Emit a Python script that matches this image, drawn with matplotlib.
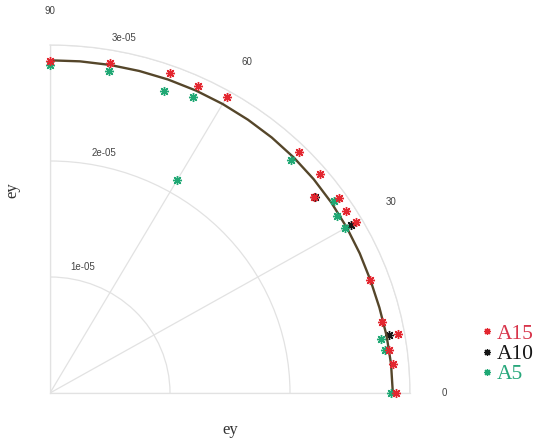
import numpy as np
import matplotlib
matplotlib.use("Agg")
import matplotlib.pyplot as plt
from matplotlib.lines import Line2D

# fitted envelope, radius in units of 1e-05
curve_theta = [0, 5, 10, 15, 20, 25, 30, 35, 40, 45, 50, 55, 60, 65, 70, 75, 80, 85, 90]
curve_r = [2.857, 2.853, 2.848, 2.842, 2.842, 2.848, 2.855, 2.862, 2.868, 2.872,
           2.875, 2.876, 2.877, 2.877, 2.876, 2.874, 2.872, 2.870, 2.868]

# measured samples, radius in units of 1e-05
a15_theta = [0, 5, 7.5, 10, 12.5, 20, 30, 32.5, 35, 37.5, 40, 45, 60, 65, 70, 80, 90]
a15_r = [2.881, 2.866, 2.853, 2.948, 2.836, 2.841, 2.946, 2.925, 2.938, 2.778,
         2.941, 2.938, 2.946, 2.919, 2.935, 2.892, 2.863]

a10_theta = [10, 30, 37.5]
a10_r = [2.872, 2.892, 2.780]

a5_theta = [0, 7.5, 9.6, 30, 32.5, 35, 45, 60, 65, 70, 80, 90]
a5_r = [2.839, 2.816, 2.795, 2.839, 2.833, 2.888, 2.838, 2.118, 2.813, 2.769, 2.821, 2.831]

r_ticks = [1e-05, 2e-05, 3e-05]
r_tick_labels = ["1e-05", "2e-05", "3e-05"]
theta_ticks = [0, 30, 60, 90]
series_names = ["A15", "A10", "A5"]

SCALE = 1e-05
RED = "#e3262f"
BLACK = "#151515"
GREEN = "#1fa874"
LINE = "#55462a"
GRID = "#e2e2e2"
STAR = (8, 2, 0)

W, H = 533, 441
fig = plt.figure(figsize=(W / 100, H / 100), dpi=100)
ax = fig.add_axes([50 / W, 48 / H, 360 / W, 348 / H], projection="polar")
ax.set_thetamin(0)
ax.set_thetamax(90)
ax.set_rlim(0, 3e-05)
ax.set_aspect("auto")


def rad(deg):
    return np.deg2rad(np.asarray(deg, dtype=float))


def scaled(vals):
    return np.asarray(vals) * SCALE


# A10 sits under the fitted line, the others on top
ax.plot(rad(a10_theta), scaled(a10_r), ls="none", marker=STAR, ms=6.5, mew=1.0,
        color=BLACK, zorder=2, clip_on=False)
ax.plot(rad(curve_theta), scaled(curve_r), color=LINE, lw=1.7, zorder=3)
for th, rr, col in [(a5_theta, a5_r, GREEN), (a15_theta, a15_r, RED)]:
    ax.plot(rad(th), scaled(rr), ls="none", marker=STAR, ms=6.5, mew=1.0,
            color=col, zorder=4, clip_on=False)

# grid and frame
ax.set_thetagrids(theta_ticks, labels=[str(t) for t in theta_ticks])
ax.set_rgrids(r_ticks, labels=[""] * len(r_ticks))
ax.grid(color=GRID, linewidth=0.9)
for name in ["polar", "start", "end", "inner"]:
    if name in ax.spines:
        ax.spines[name].set_color(GRID)
        ax.spines[name].set_linewidth(0.9)
ax.tick_params(axis="x", pad=17.5, length=0, labelsize=7, labelcolor="#444444")
ax.tick_params(axis="y", length=0)
for lab in ax.get_xticklabels():
    lab.set_fontfamily("Liberation Sans")

# radial labels sit just above each ring
for rv, txt in zip(r_ticks, r_tick_labels):
    ax.annotate(txt, xy=(rad(80), rv), xytext=(8.6, 8.6), textcoords="offset points",
                ha="center", va="center", fontsize=7, color="#444444",
                family="Liberation Sans", annotation_clip=False)

fig.text(230 / W, 1 - 430 / H, "ey", ha="center", va="center",
         family="Liberation Serif", fontsize=12, color="#333333")
fig.text(12 / W, 1 - 190 / H, "ey", ha="center", va="center", rotation=90,
         family="Liberation Serif", fontsize=12, color="#333333")

handles = [Line2D([], [], ls="none", marker=STAR, ms=5, mew=0.9, color=c)
           for c in (RED, BLACK, GREEN)]
ax.legend(handles, series_names, loc="center left",
          bbox_to_anchor=(482 / W, 1 - 354 / H), bbox_transform=fig.transFigure,
          frameon=False, prop={"family": "Liberation Serif", "size": 15.5},
          labelcolor=["#d8354b", BLACK, "#27a77b"], handlelength=0.5,
          handletextpad=0.2, labelspacing=0.0, borderaxespad=0, borderpad=0)

fig.savefig("out.png", dpi=100)
